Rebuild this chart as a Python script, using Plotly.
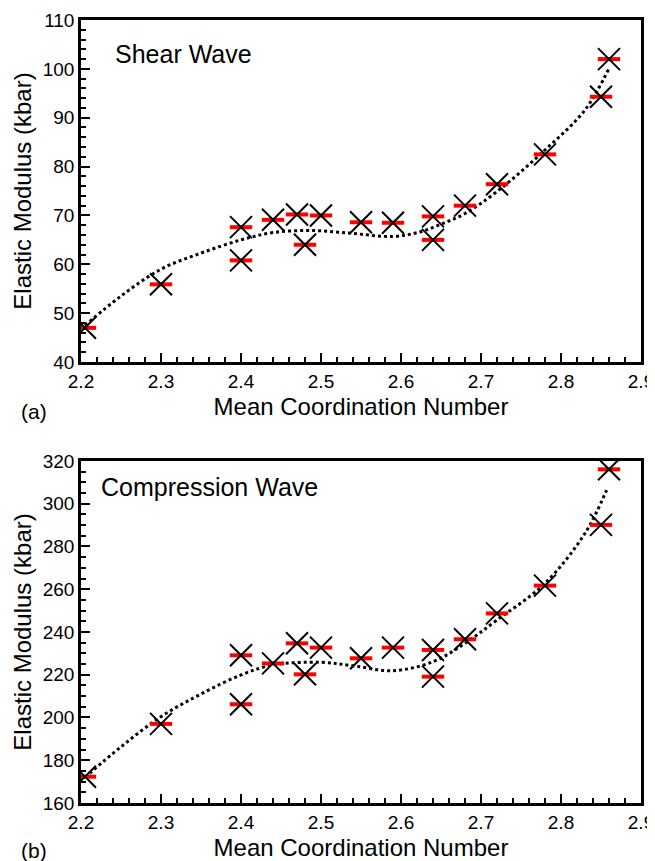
import plotly.graph_objects as go

# ---- data ----
coord = [2.205, 2.30, 2.40, 2.40, 2.44, 2.47, 2.48, 2.50, 2.55, 2.59, 2.64, 2.64, 2.68, 2.72, 2.78, 2.85, 2.86]
shear = [47.0, 55.9, 67.6, 60.8, 69.1, 70.2, 64.0, 70.0, 68.6, 68.5, 69.8, 65.0, 72.0, 76.4, 82.5, 94.3, 102.0]
compression = [172.3, 197.0, 229.1, 206.2, 225.3, 234.7, 220.2, 232.7, 227.7, 232.7, 231.6, 219.1, 236.6, 248.7, 261.7, 290.1, 316.1]

fit_x_shear = [2.205, 2.25, 2.30, 2.35, 2.40, 2.44, 2.49, 2.54, 2.59, 2.623, 2.65, 2.68, 2.72, 2.78, 2.83, 2.86]
fit_y_shear = [47.5, 53.5, 59.0, 62.3, 65.0, 66.5, 66.9, 66.3, 65.7, 66.6, 68.2, 70.4, 74.9, 83.4, 91.6, 100.1]

fit_x_comp = [2.205, 2.25, 2.30, 2.35, 2.40, 2.44, 2.50, 2.54, 2.59, 2.64, 2.68, 2.72, 2.78, 2.83, 2.857]
fit_y_comp = [172.0, 186.3, 200.4, 211.0, 219.9, 224.6, 225.8, 224.2, 221.9, 226.1, 234.7, 245.6, 262.8, 286.2, 306.4]

x_ticks = [2.2, 2.3, 2.4, 2.5, 2.6, 2.7, 2.8, 2.9]
panel_titles = ["Shear Wave", "Compression Wave"]
panel_labels = ["(a)", "(b)"]
x_title = "Mean Coordination Number"
y_title = "Elastic Modulus (kbar)"

FONT = "Liberation Sans, Arial, Helvetica, sans-serif"

fig = go.Figure()

panels = [
    dict(y=shear, fx=fit_x_shear, fy=fit_y_shear, xa="x", ya="y"),
    dict(y=compression, fx=fit_x_comp, fy=fit_y_comp, xa="x2", ya="y2"),
]
for p in panels:
    fig.add_trace(go.Scatter(x=p["fx"], y=p["fy"], mode="lines", xaxis=p["xa"], yaxis=p["ya"],
                             line=dict(color="black", width=3, dash="dot", shape="spline", smoothing=1.0),
                             showlegend=False, hoverinfo="skip"))
    fig.add_trace(go.Scatter(x=coord, y=p["y"], mode="markers", xaxis=p["xa"], yaxis=p["ya"],
                             marker=dict(symbol="line-ew", size=16, line=dict(color="#ff0000", width=4)),
                             showlegend=False))
    fig.add_trace(go.Scatter(x=coord, y=p["y"], mode="markers", xaxis=p["xa"], yaxis=p["ya"],
                             marker=dict(symbol="x-thin", size=22, line=dict(color="black", width=2)),
                             showlegend=False))

xcommon = dict(range=[2.2, 2.9], tickvals=x_ticks, ticktext=[f"{v:.1f}" for v in x_ticks],
               ticks="inside", ticklen=9, tickwidth=2, tickcolor="black", automargin=False,
               minor=dict(dtick=0.02, tick0=2.2, ticks="inside", ticklen=5, tickwidth=1.5, tickcolor="black"),
               showline=True, linewidth=2.5, linecolor="black", mirror=True, showgrid=False, zeroline=False,
               tickfont=dict(size=19, color="black", family=FONT),
               title=dict(text=x_title, font=dict(size=24, color="black", family=FONT), standoff=8))
ycommon = dict(ticks="inside", ticklen=9, tickwidth=2, tickcolor="black", automargin=False,
               showline=True, linewidth=2.5, linecolor="black", mirror=True, showgrid=False, zeroline=False,
               tickfont=dict(size=19, color="black", family=FONT),
               title=dict(text=y_title, font=dict(size=24, color="black", family=FONT), standoff=5))

# page body has an 8px margin, so the figure is sized/offset to compensate
fig.update_layout(
    width=647, height=853,
    margin=dict(l=73, r=14, t=12, b=58),
    paper_bgcolor="white", plot_bgcolor="white",
    font=dict(family=FONT, color="black"),
    xaxis=dict(domain=[0, 1], anchor="y", **xcommon),
    yaxis=dict(domain=[0.5632, 1.0], anchor="x", range=[40, 110], dtick=10,
               minor=dict(dtick=2, ticks="inside", ticklen=5, tickwidth=1.5, tickcolor="black"), **ycommon),
    xaxis2=dict(domain=[0, 1], anchor="y2", **xcommon),
    yaxis2=dict(domain=[0, 0.4368], anchor="x2", range=[160, 320], dtick=20,
                minor=dict(dtick=5, ticks="inside", ticklen=5, tickwidth=1.5, tickcolor="black"), **ycommon),
)

fig.add_annotation(text=panel_titles[0], xref="x domain", yref="y domain", x=0.057, y=0.90,
                   xanchor="left", yanchor="middle", showarrow=False,
                   font=dict(size=25, color="black", family=FONT))
fig.add_annotation(text=panel_titles[1], xref="x2 domain", yref="y2 domain", x=0.032, y=0.925,
                   xanchor="left", yanchor="middle", showarrow=False,
                   font=dict(size=25, color="black", family=FONT))
fig.add_annotation(text=panel_labels[0], xref="paper", yref="paper", x=-0.111, y=0.5632, yshift=-49,
                   xanchor="left", yanchor="middle", showarrow=False,
                   font=dict(size=21, color="black", family=FONT))
fig.add_annotation(text=panel_labels[1], xref="paper", yref="paper", x=-0.111, y=0.0, yshift=-47,
                   xanchor="left", yanchor="middle", showarrow=False,
                   font=dict(size=21, color="black", family=FONT))

fig.write_html("out.html")
